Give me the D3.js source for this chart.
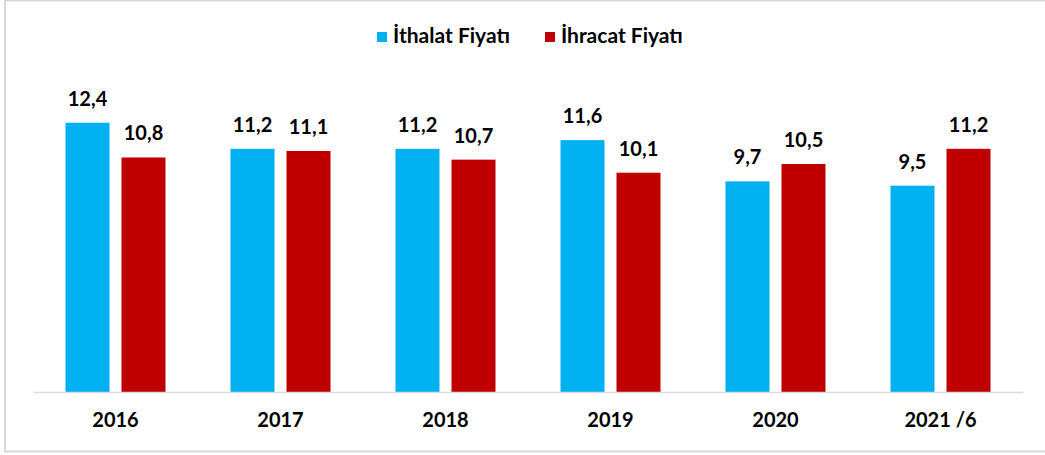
<!DOCTYPE html>
<html lang="tr">
<head>
<meta charset="utf-8">
<title>ithalat ihracat fiyat</title>
<script src="https://d3js.org/d3.v7.min.js"></script>
<style>
  body { margin: 0; background: #fff; }
  text { font-family: Lato, "Open Sans", sans-serif; font-weight: bold; fill: #000; }
  .axis path, .axis line { stroke: #d9d9d9; }
</style>
</head>
<body>
<div id="chart"></div>
<script>
// data
var years = ["2016", "2017", "2018", "2019", "2020", "2021 /6"];
var ithalat = [12.4, 11.2, 11.2, 11.6, 9.7, 9.5];
var ihracat = [10.8, 11.1, 10.7, 10.1, 10.5, 11.2];
var seriesNames = ["İthalat Fiyatı", "İhracat Fiyatı"];
var colors = ["#00b0f0", "#c00000"];

var w = 1045, h = 455;
var svg = d3.select("#chart").append("svg").attr("width", w).attr("height", h);

// border
svg.append("rect")
  .attr("x", 5).attr("y", 0.5)
  .attr("width", w + 10).attr("height", 451)
  .attr("fill", "none").attr("stroke", "#d9d9d9").attr("stroke-width", 2);

var x0 = d3.scaleBand().domain(years).range([33, 1023]);
var x1 = d3.scaleBand().domain([0, 1]).range([50, 50 + 44 + 12 + 44]).paddingInner(12 / 56);
// bars' group offset inside each 165px band
var yScale = d3.scaleLinear().domain([0, 14]).range([392, 88]);

var rows = years.map(function(y, i) { return { year: y, vals: [ithalat[i], ihracat[i]] }; });

var groups = svg.selectAll("g.grp").data(rows).enter().append("g")
  .attr("class", "grp")
  .attr("transform", function(d) { return "translate(" + (x0(d.year) + (x0.bandwidth() - 100) / 2 - 50) + ",0)"; });

groups.selectAll("rect").data(function(d) { return d.vals; }).enter().append("rect")
  .attr("x", function(d, i) { return x1(i); })
  .attr("width", x1.bandwidth())
  .attr("y", function(d) { return yScale(d); })
  .attr("height", function(d) { return yScale(0) - yScale(d); })
  .attr("fill", function(d, i) { return colors[i]; });

groups.selectAll("text").data(function(d) { return d.vals; }).enter().append("text")
  .attr("x", function(d, i) { return x1(i) + x1.bandwidth() / 2; })
  .attr("y", function(d) { return yScale(d) - 17; })
  .attr("text-anchor", "middle")
  .style("font-size", "20px")
  .text(function(d) { return d.toFixed(1).replace(".", ","); });

// x axis
var xAxis = d3.axisBottom(x0).tickSize(0).tickPadding(21);
var gx = svg.append("g").attr("class", "axis")
  .attr("transform", "translate(0,392)")
  .call(xAxis);
gx.select(".domain").attr("stroke", "#d9d9d9").attr("stroke-width", 1.5);
gx.selectAll("text").style("font-size", "20px").attr("font-family", "Lato, sans-serif");

// legend
var legX = [377, 545];
var leg = svg.selectAll("g.leg").data(seriesNames).enter().append("g")
  .attr("class", "leg")
  .attr("transform", function(d, i) { return "translate(" + legX[i] + ",32)"; });
leg.append("rect").attr("width", 10).attr("height", 10)
  .attr("fill", function(d, i) { return colors[i]; });
leg.append("text").attr("x", 16).attr("y", 11)
  .style("font-size", "21px")
  .text(function(d) { return d; });
</script>
</body>
</html>
